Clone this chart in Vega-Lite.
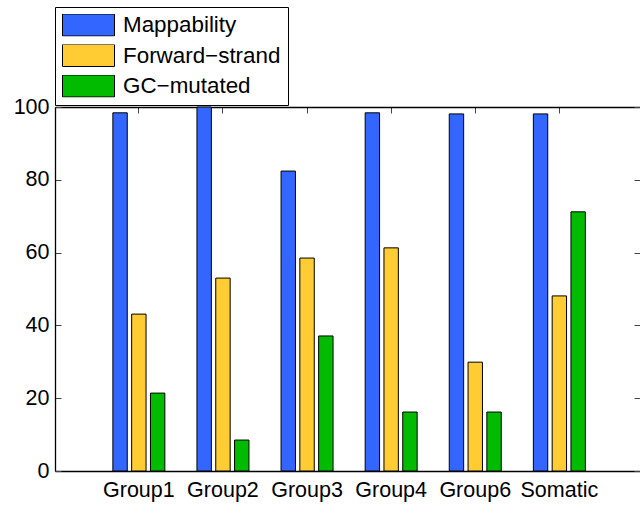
{
  "$schema": "https://vega.github.io/schema/vega-lite/v6.json",
  "width": 585,
  "height": 364,
  "autosize": {"type": "none"},
  "padding": {"left": 55, "top": 107, "right": 0, "bottom": 34},
  "background": "white",
  "config": {
    "view": {"stroke": null},
    "font": "Liberation Sans",
    "axis": {"grid": false, "labelColor": "black", "labelFont": "Liberation Sans", "domainColor": "black", "domainWidth": 1.3, "tickColor": "#444", "tickWidth": 1}
  },
  "data": {
    "values": [
      {"group": "Group1", "metric": "Mappability", "value": 98.4},
      {"group": "Group1", "metric": "Forward−strand", "value": 43.1},
      {"group": "Group1", "metric": "GC−mutated", "value": 21.4},
      {"group": "Group2", "metric": "Mappability", "value": 100},
      {"group": "Group2", "metric": "Forward−strand", "value": 53.0},
      {"group": "Group2", "metric": "GC−mutated", "value": 8.5},
      {"group": "Group3", "metric": "Mappability", "value": 82.4},
      {"group": "Group3", "metric": "Forward−strand", "value": 58.5},
      {"group": "Group3", "metric": "GC−mutated", "value": 37.1},
      {"group": "Group4", "metric": "Mappability", "value": 98.4},
      {"group": "Group4", "metric": "Forward−strand", "value": 61.3},
      {"group": "Group4", "metric": "GC−mutated", "value": 16.2},
      {"group": "Group6", "metric": "Mappability", "value": 98.1},
      {"group": "Group6", "metric": "Forward−strand", "value": 29.9},
      {"group": "Group6", "metric": "GC−mutated", "value": 16.2},
      {"group": "Somatic", "metric": "Mappability", "value": 98.1},
      {"group": "Somatic", "metric": "Forward−strand", "value": 48.1},
      {"group": "Somatic", "metric": "GC−mutated", "value": 71.2}
    ]
  },
  "layer": [
    {
      "mark": {"type": "bar", "stroke": "black", "strokeWidth": 1},
      "encoding": {
        "x": {
          "field": "group", "type": "nominal", "sort": null,
          "scale": {"paddingInner": 0, "paddingOuter": 0.478, "align": 0.52},
          "axis": {"title": null, "labelAngle": 0, "labelFontSize": 21.5, "tickSize": -6, "labelPadding": 14.5, "domainWidth": 1.3}
        },
        "xOffset": {
          "field": "metric", "type": "nominal", "sort": ["Mappability", "Forward−strand", "GC−mutated"],
          "scale": {"paddingInner": 0.234, "paddingOuter": 0.854}
        },
        "y": {
          "field": "value", "type": "quantitative",
          "scale": {"domain": [0, 100], "nice": false},
          "axis": {"title": null, "values": [0, 20, 40, 60, 80, 100], "labelFontSize": 21.5, "tickSize": -6, "labelPadding": 12}
        },
        "color": {
          "field": "metric", "type": "nominal", "sort": ["Mappability", "Forward−strand", "GC−mutated"],
          "scale": {"domain": ["Mappability", "Forward−strand", "GC−mutated"], "range": ["#3366FF", "#FFCC33", "#00BB00"]},
          "legend": {
            "title": null,
            "orient": "none",
            "legendX": 0,
            "legendY": -100,
            "strokeColor": "black",
            "fillColor": "white",
            "padding": 7,
            "symbolType": "M-1,-0.423H1V0.423H-1Z",
            "symbolSize": 2704,
            "symbolStrokeColor": "black",
            "symbolStrokeWidth": 1,
            "clipHeight": 22,
            "rowPadding": 7.5,
            "labelOffset": 8,
            "labelFontSize": 22.4,
            "labelFont": "Liberation Sans",
            "labelColor": "black",
            "labelLimit": 400
          }
        }
      }
    },
    {
      "mark": {"type": "rule", "opacity": 0},
      "encoding": {
        "x": {"field": "group", "type": "nominal", "sort": null,
          "axis": {"orient": "top", "title": null, "labels": false, "tickSize": -6, "domainWidth": 1.3}},
        "y": {"field": "value", "type": "quantitative",
          "axis": {"orient": "right", "title": null, "labels": false, "domain": false, "values": [0, 20, 40, 60, 80, 100], "tickSize": -6}}
      }
    }
  ],
  "resolve": {"axis": {"x": "independent", "y": "independent"}}
}
